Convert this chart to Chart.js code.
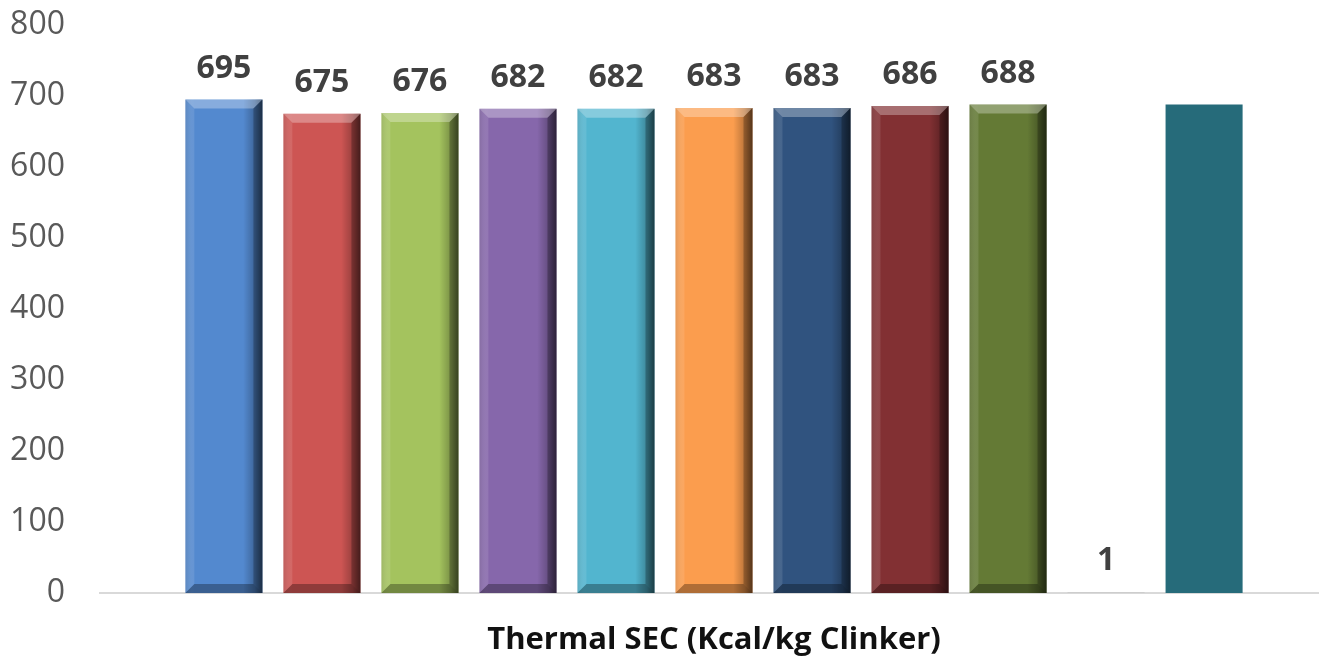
<!DOCTYPE html>
<html>
<head>
<meta charset="utf-8">
<script src="https://cdn.jsdelivr.net/npm/chart.js@4"></script>
<style>
html,body{margin:0;padding:0;background:#fff;overflow:hidden;}
#wrap{width:1328px;height:659px;position:relative;}
</style>
</head>
<body>
<div id="wrap"><canvas id="c"></canvas></div>
<script>
const categories = ['Thermal SEC (Kcal/kg Clinker)'];
const seriesNames = ['S1','S2','S3','S4','S5','S6','S7','S8','S9','S10','S11'];
const seriesValues = [695, 675, 676, 682, 682, 683, 683, 686, 688, 1, 688];
const showLabel = [true, true, true, true, true, true, true, true, true, true, false];
const bevel = [true, true, true, true, true, true, true, true, true, false, false];
const colors = ['#5389CF','#CD5553','#A4C35E','#8667AB','#52B5CF','#FB9D4E','#30537F','#823033','#647A35','#C8C8C8','#266B7A'];
const yTicks = [0,100,200,300,400,500,600,700,800];

const datasets = seriesValues.map((v,i)=>({
  label: seriesNames[i],
  data: [v],
  backgroundColor: colors[i],
  borderWidth: 0,
  barPercentage: 0.786,
  categoryPercentage: 0.878
}));

const bevelPlugin = {
  id:'bevel',
  afterDatasetsDraw(chart){
    const ctx = chart.ctx;
    chart.data.datasets.forEach((ds,i)=>{
      if(!bevel[i]) return;
      const meta = chart.getDatasetMeta(i);
      meta.data.forEach(el=>{
        const w = el.width, x0 = el.x - w/2, x1 = el.x + w/2, top = el.y, bot = el.base;
        const b = 9;
        ctx.save();
        const g = ctx.createLinearGradient(x0,0,x1,0);
        g.addColorStop(0,'rgba(0,0,0,0.10)');
        g.addColorStop(0.12,'rgba(255,255,255,0.0)');
        g.addColorStop(0.75,'rgba(0,0,0,0.0)');
        g.addColorStop(0.9,'rgba(0,0,0,0.25)');
        g.addColorStop(1,'rgba(0,0,0,0.55)');
        ctx.fillStyle = g;
        ctx.fillRect(x0, top, w, bot-top);
        ctx.beginPath();
        ctx.moveTo(x0, top); ctx.lineTo(x1, top); ctx.lineTo(x1-b, top+b); ctx.lineTo(x0+b, top+b); ctx.closePath();
        ctx.fillStyle = 'rgba(255,255,255,0.30)'; ctx.fill();
        ctx.beginPath();
        ctx.moveTo(x0, top); ctx.lineTo(x0+b, top+b); ctx.lineTo(x0+b, bot-b); ctx.lineTo(x0, bot); ctx.closePath();
        ctx.fillStyle = 'rgba(255,255,255,0.10)'; ctx.fill();
        ctx.beginPath();
        ctx.moveTo(x0, bot); ctx.lineTo(x1, bot); ctx.lineTo(x1-b, bot-b); ctx.lineTo(x0+b, bot-b); ctx.closePath();
        ctx.fillStyle = 'rgba(0,0,0,0.30)'; ctx.fill();
        ctx.beginPath();
        ctx.moveTo(x1, top); ctx.lineTo(x1-b, top+b); ctx.lineTo(x1-b, bot-b); ctx.lineTo(x1, bot); ctx.closePath();
        ctx.fillStyle = 'rgba(0,0,0,0.25)'; ctx.fill();
        ctx.restore();
      });
    });
  }
};

const labelPlugin = {
  id:'vlabels',
  afterDatasetsDraw(chart){
    const ctx = chart.ctx;
    ctx.save();
    ctx.font = 'bold 32px "Open Sans", "Liberation Sans", sans-serif';
    ctx.fillStyle = '#404040';
    ctx.textAlign = 'center';
    ctx.textBaseline = 'alphabetic';
    chart.data.datasets.forEach((ds,i)=>{
      if(!showLabel[i]) return;
      const meta = chart.getDatasetMeta(i);
      meta.data.forEach((el,j)=>{
        ctx.fillText(String(ds.data[j]), el.x, el.y - 22);
      });
    });
    ctx.restore();
  }
};

new Chart(document.getElementById('c'), {
  type:'bar',
  data:{ labels: categories, datasets },
  options:{
    responsive:true,
    maintainAspectRatio:false,
    animation:false,
    layout:{ padding:{ left:10, right:0, top:25, bottom:0 } },
    plugins:{ legend:{display:false}, tooltip:{enabled:false} },
    scales:{
      x:{
        grid:{ display:false, drawTicks:false },
        border:{ color:'#D9D9D9', width:2 },
        ticks:{ display:false },
        afterFit(axis){ axis.height = 66; },
        title:{ display:true, text:categories[0], color:'#111111',
          font:{ family:'"Open Sans", "Liberation Sans", sans-serif', size:31, weight:'bold' },
          padding:{ top:0, bottom:0 } }
      },
      y:{
        min:0, max:800,
        afterBuildTicks(axis){ axis.ticks = yTicks.map(v=>({value:v})); },
        afterFit(axis){ axis.width = 90; axis.paddingTop = 0; axis.paddingBottom = 0; },
        grid:{ display:false, drawTicks:false },
        border:{ display:false },
        ticks:{ color:'#595959', padding:35,
          font:{ family:'"Open Sans", "Liberation Sans", sans-serif', size:32 } }
      }
    }
  },
  plugins:[bevelPlugin, labelPlugin]
});
</script>
</body>
</html>
